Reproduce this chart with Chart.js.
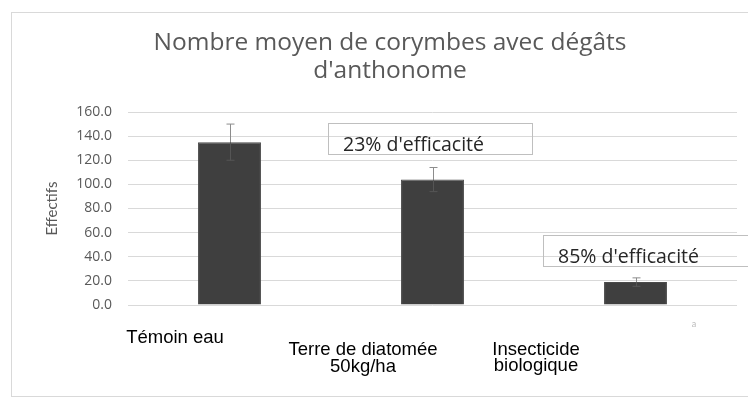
<!DOCTYPE html>
<html>
<head>
<meta charset="utf-8">
<script src="https://cdn.jsdelivr.net/npm/chart.js@4.4.1/dist/chart.umd.min.js"></script>
<style>
  html, body { margin: 0; padding: 0; background: #fff; }
  #wrap { position: relative; width: 748px; height: 400px; overflow: hidden; }
  #frame { position: absolute; left: 11px; top: 12px; width: 760px; height: 383px; border: 1px solid #d9d9d9; }
  #c { position: absolute; left: 0; top: 0; }
</style>
</head>
<body>
<div id="wrap">
  <div id="frame"></div>
  <canvas id="c" width="748" height="400"></canvas>
</div>
<script>
// données
const categories = ['Témoin eau', 'Terre de diatomée 50kg/ha', 'Insecticide biologique'];
const categoryLines = [['Témoin eau'], ['Terre de diatomée', '50kg/ha'], ['Insecticide', 'biologique']];
const means = [135, 104, 19];
const errors = [15, 10, 3.5];
const yTicks = [0, 20, 40, 60, 80, 100, 120, 140, 160];
const titleLines = ['Nombre moyen de corymbes avec dégâts', "d'anthonome"];
const efficacyNotes = ["23% d'efficacité", "85% d'efficacité"];

const grey = '#595959';

// barres d'erreur (partie basse presque invisible dans la barre)
const errorBars = {
  id: 'errorBars',
  afterDatasetsDraw(chart) {
    const ctx = chart.ctx;
    const y = chart.scales.y;
    const meta = chart.getDatasetMeta(0);
    ctx.save();
    ctx.lineWidth = 1;
    meta.data.forEach((bar, i) => {
      const x = Math.round(bar.x) + 0.5;
      const top = y.getPixelForValue(means[i] + errors[i]);
      const mid = y.getPixelForValue(means[i]);
      const bot = y.getPixelForValue(means[i] - errors[i]);
      ctx.strokeStyle = '#8c8c8c';
      ctx.beginPath();
      ctx.moveTo(x, top); ctx.lineTo(x, mid);
      ctx.moveTo(x - 4, top); ctx.lineTo(x + 4, top);
      ctx.stroke();
      ctx.strokeStyle = '#555555';
      ctx.beginPath();
      ctx.moveTo(x, mid); ctx.lineTo(x, bot);
      ctx.moveTo(x - 4, bot); ctx.lineTo(x + 4, bot);
      ctx.stroke();
    });
    ctx.restore();
  }
};

// titre, étiquettes collées et encadrés
const overlay = {
  id: 'overlay',
  afterDraw(chart) {
    const ctx = chart.ctx;
    ctx.save();
    // titre
    ctx.fillStyle = grey;
    ctx.font = '24.5px "Open Sans"';
    ctx.textAlign = 'center';
    ctx.textBaseline = 'middle';
    ctx.fillText(titleLines[0], 390, 43);
    ctx.fillText(titleLines[1], 390, 71);

    // encadrés efficacité
    const boxes = [[328, 123, 204, 31], [543, 235, 210, 31]];
    ctx.strokeStyle = '#bfbfbf';
    ctx.lineWidth = 1;
    ctx.font = '19.5px "Open Sans"';
    ctx.textAlign = 'left';
    ctx.fillStyle = '#262626';
    boxes.forEach((b, i) => {
      ctx.strokeRect(b[0] + 0.5, b[1] + 0.5, b[2], b[3]);
      ctx.fillText(efficacyNotes[i], b[0] + 15, b[1] + 22);
    });

    // étiquettes des catégories
    const labelX = [175, 363, 536];
    const labelY = [[343], [355, 372], [355, 371]];
    ctx.fillStyle = '#000';
    ctx.font = '18.5px "Liberation Sans"';
    ctx.textAlign = 'center';
    ctx.textBaseline = 'alphabetic';
    categoryLines.forEach((lines, i) => {
      lines.forEach((t, j) => ctx.fillText(t, labelX[i], labelY[i][j]));
    });

    ctx.fillStyle = '#bbbbbb';
    ctx.font = '9px Lato';
    ctx.fillText('a', 694, 327);
    ctx.restore();
  }
};

new Chart(document.getElementById('c'), {
  type: 'bar',
  data: {
    labels: categories,
    datasets: [{
      label: 'Effectifs',
      data: means,
      backgroundColor: '#3f3f3f',
      borderColor: '#4a4a4a',
      borderWidth: 1,
      barPercentage: 0.62,
      categoryPercentage: 0.5
    }]
  },
  options: {
    responsive: false,
    animation: false,
    layout: { padding: { left: 40, right: 11, top: 112, bottom: 95 } },
    plugins: {
      legend: { display: false },
      title: { display: false },
      tooltip: { enabled: false }
    },
    scales: {
      x: {
        ticks: { display: false },
        grid: { display: false },
        border: { display: false },
        afterFit: s => { s.height = 0; }
      },
      y: {
        min: 0,
        max: 160,
        afterBuildTicks: s => { s.ticks = yTicks.map(v => ({ value: v })); },
        afterFit: s => { s.width = 88; },
        ticks: {
          color: grey,
          font: { family: 'Open Sans', size: 14 },
          padding: 16,
          callback: v => Number(v).toFixed(1)
        },
        grid: { color: '#d9d9d9', drawTicks: false },
        border: { display: false },
        title: {
          display: true,
          text: 'Effectifs',
          color: grey,
          font: { family: 'Lato', size: 15 },
          padding: { top: 3, bottom: 0 }
        }
      }
    }
  },
  plugins: [errorBars, overlay]
});
</script>
</body>
</html>
